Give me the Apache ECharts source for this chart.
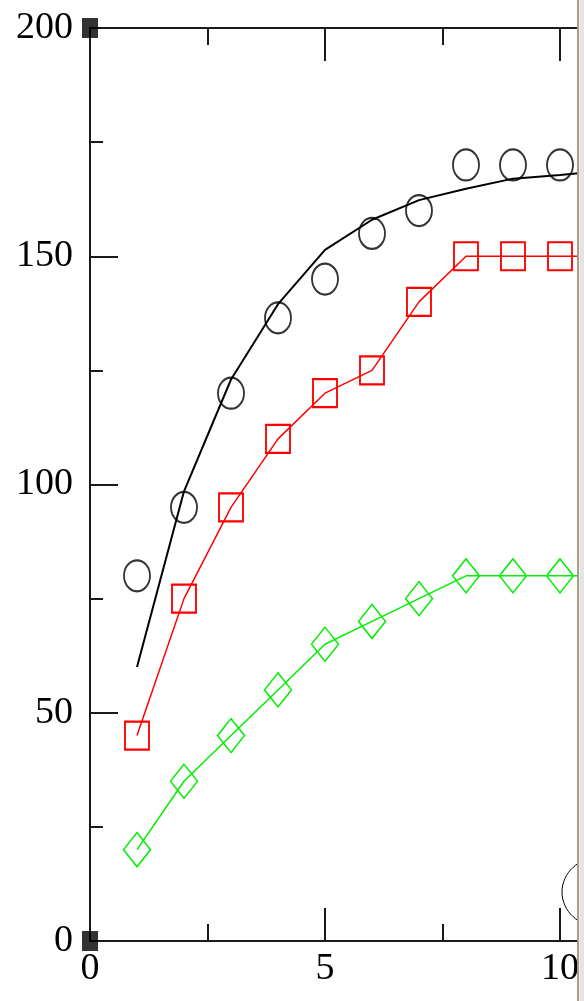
<!DOCTYPE html>
<html>
<head>
<meta charset="utf-8">
<script src="https://cdn.jsdelivr.net/npm/echarts@6/dist/echarts.min.js"></script>
<style>
html,body{margin:0;padding:0;background:#fff;overflow:hidden;width:584px;height:1001px;}
#chart{width:640px;height:1001px;}
</style>
</head>
<body>
<div id="chart"></div>
<script>
// ---- data ----
const xValues = [1, 2, 3, 4, 5, 6, 7, 8, 9, 10];
const circleValues = [80, 95, 120, 136.5, 145, 155, 160, 170, 170, 170];
const squareValues = [45, 75, 95, 110, 120, 125, 140, 150, 150, 150];
const diamondValues = [20, 35, 45, 55, 65, 70, 75, 80, 80, 80];
const fitX = [1, 2, 3, 4, 5, 6, 7, 8, 9, 10, 10.5];
const fitY = [60, 98.5, 123, 139.5, 151.4, 158, 162.3, 164.8, 167, 167.8, 168.3];
const tailX = 11;             // lines continue past the visible right edge
const squareTail = 150;
const diamondTail = 80;
const cornerPoints = [[0, 0], [0, 200]];
const xTicks = { min: 0, max: 11, interval: 5 };
const yTicks = { min: 0, max: 200, interval: 50 };

const pairs = (xs, ys) => xs.map((x, i) => [x, ys[i]]);

const chart = echarts.init(document.getElementById('chart'), null, { renderer: 'canvas' });
const axisColor = '#1a1a1a';
const labelFont = { fontFamily: 'Liberation Serif, Times New Roman, serif', fontSize: 38, color: '#000' };

function xAxisDef(pos, showLabel) {
  return {
    type: 'value', position: pos,
    min: xTicks.min, max: xTicks.max, interval: xTicks.interval,
    axisLine: { show: true, onZero: false, lineStyle: { color: axisColor, width: 2 } },
    axisTick: { show: true, inside: true, length: 33, lineStyle: { color: axisColor, width: 2 } },
    minorTick: { show: true, splitNumber: 2, length: 17, lineStyle: { color: axisColor, width: 2 } },
    splitLine: { show: false },
    axisLabel: Object.assign({ show: showLabel, margin: 9, showMaxLabel: false }, labelFont)
  };
}

const option = {
  animation: false,
  backgroundColor: '#fff',
  grid: { left: 90, top: 28, height: 913, width: 517, containLabel: false },
  xAxis: [xAxisDef('bottom', true), xAxisDef('top', false)],
  yAxis: {
    type: 'value', min: yTicks.min, max: yTicks.max, interval: yTicks.interval,
    axisLine: { show: true, onZero: false, lineStyle: { color: axisColor, width: 2 } },
    axisTick: { show: true, inside: true, length: 28, lineStyle: { color: axisColor, width: 2 } },
    minorTick: { show: true, splitNumber: 2, length: 13, lineStyle: { color: axisColor, width: 2 } },
    splitLine: { show: false },
    axisLabel: Object.assign({ margin: 17 }, labelFont)
  },
  series: [
    {
      name: 'fit', type: 'line', data: pairs(fitX, fitY),
      showSymbol: false, symbol: 'none',
      lineStyle: { color: '#000', width: 2 }, z: 3
    },
    {
      name: 'circles', type: 'scatter', data: pairs(xValues, circleValues),
      symbol: 'circle', symbolSize: [26, 31],
      itemStyle: { color: 'rgba(0,0,0,0)', borderColor: '#000', borderWidth: 2 }, z: 4
    },
    {
      name: 'squares', type: 'line', data: pairs(xValues.concat([tailX]), squareValues.concat([squareTail])),
      symbol: 'rect', symbolSize: [24, 28], showAllSymbol: true,
      lineStyle: { color: '#ff0000', width: 1.5 },
      itemStyle: { color: 'rgba(0,0,0,0)', borderColor: '#ff0000', borderWidth: 2 }, z: 4
    },
    {
      name: 'diamonds', type: 'line', data: pairs(xValues.concat([tailX]), diamondValues.concat([diamondTail])),
      symbol: 'diamond', symbolSize: [27, 34], showAllSymbol: true,
      lineStyle: { color: '#00ee00', width: 1.5 },
      itemStyle: { color: 'rgba(0,0,0,0)', borderColor: '#00ee00', borderWidth: 1.5 }, z: 4
    },
    {
      name: 'corners', type: 'scatter', data: cornerPoints, clip: false,
      symbol: 'rect', symbolSize: [16, 20],
      itemStyle: { color: '#000' }, z: 6, silent: true
    }
  ],
  graphic: [
    { type: 'ellipse', shape: { cx: 600, cy: 892, rx: 38, ry: 35 }, style: { fill: 'none', stroke: '#000', lineWidth: 1 }, z: 50, silent: true },
    { type: 'rect', shape: { x: 577, y: 0, width: 2, height: 1001 }, style: { fill: '#a79c8d' }, z: 100, silent: true },
    { type: 'rect', shape: { x: 579, y: 0, width: 1, height: 1001 }, style: { fill: '#f4efe0' }, z: 100, silent: true },
    { type: 'rect', shape: { x: 580, y: 0, width: 60, height: 1001 }, style: { fill: '#e4e4e4' }, z: 100, silent: true }
  ]
};
chart.setOption(option);
</script>
</body>
</html>
